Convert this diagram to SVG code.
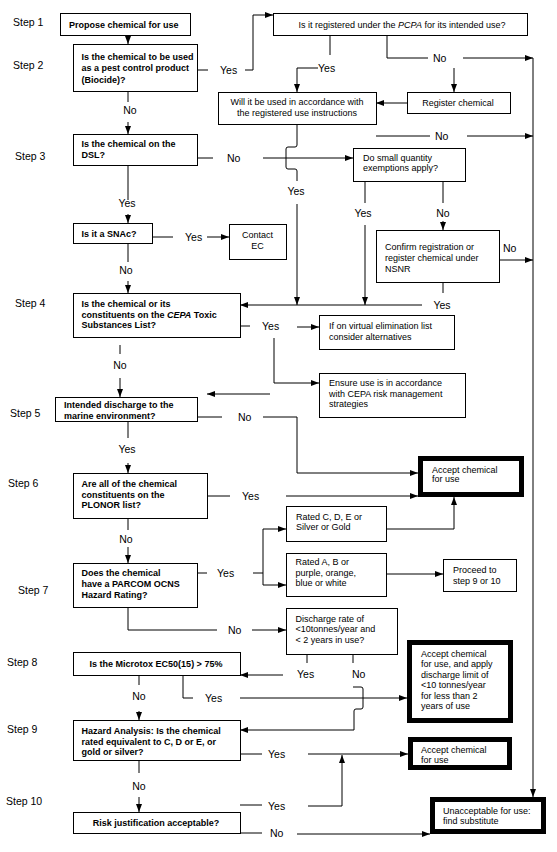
<svg xmlns="http://www.w3.org/2000/svg" width="557" height="852" viewBox="0 0 557 852">
<defs>
<marker id="ah" viewBox="0 0 8 6" refX="8" refY="3" markerWidth="8" markerHeight="6" orient="auto" markerUnits="userSpaceOnUse"><path d="M0,0 L8,3 L0,6 z" fill="#000"/></marker>
<style>
.box{fill:#fff;stroke:#000;stroke-width:1}
.thick{fill:#fff;stroke:#000;stroke-width:5}
.b{font-family:"Liberation Sans",Arial,sans-serif;font-size:9px;font-weight:bold;fill:#000}
.r{font-family:"Liberation Sans",Arial,sans-serif;font-size:9px;fill:#000}
.lbl{font-family:"Liberation Sans",Arial,sans-serif;font-size:10.5px;fill:#000}
.step{font-family:"Liberation Sans",Arial,sans-serif;font-size:10.5px;fill:#000}
.c{fill:none;stroke:#000;stroke-width:1}
.a{fill:none;stroke:#000;stroke-width:1;marker-end:url(#ah)}
</style>
</defs>
<rect width="557" height="852" fill="#fff"/>
<g id="steps">
<text class="step" x="13" y="26">Step 1</text>
<text class="step" x="13" y="69">Step 2</text>
<text class="step" x="15" y="160">Step 3</text>
<text class="step" x="15" y="307">Step 4</text>
<text class="step" x="10" y="417">Step 5</text>
<text class="step" x="8" y="487">Step 6</text>
<text class="step" x="18" y="594">Step 7</text>
<text class="step" x="7" y="666">Step 8</text>
<text class="step" x="7" y="733">Step 9</text>
<text class="step" x="6" y="805">Step 10</text>
</g>
<g id="connectors">
<path class="a" d="M128,35 V44"/>
<path class="c" d="M197,70 H208"/>
<text class="lbl" x="220" y="74">Yes</text>
<path class="a" d="M245,70 H253 V15 H273"/>
<path class="c" d="M330,35 V55"/>
<text class="lbl" x="318" y="72">Yes</text>
<path class="a" d="M318,68 H297 V92"/>
<path class="c" d="M387,35 V58 H428"/>
<text class="lbl" x="433" y="62">No</text>
<path class="a" d="M463,58 H533"/>
<path class="a" d="M454,68 V92"/>
<path class="a" d="M407,103 H376"/>
<path class="c" d="M297,124 V145 Q297,147 295,147 H288 Q286,147 286,149 V167 Q286,169 288,169 H295 Q297,169 297,171 V181"/>
<text class="lbl" x="296" y="195" text-anchor="middle">Yes</text>
<path class="a" d="M297,204 V305"/>
<path class="c" d="M128,91 V102"/>
<text class="lbl" x="130" y="114" text-anchor="middle">No</text>
<path class="a" d="M128,122 V134"/>
<path class="c" d="M197,158 H213"/>
<text class="lbl" x="227" y="162">No</text>
<path class="a" d="M263,158 H353"/>
<path class="c" d="M376,136 H430"/>
<text class="lbl" x="435" y="140">No</text>
<path class="a" d="M467,136 H533"/>
<path class="c" d="M365,181 V203"/>
<text class="lbl" x="363" y="217" text-anchor="middle">Yes</text>
<path class="a" d="M365,225 V305"/>
<path class="c" d="M443,181 V203"/>
<text class="lbl" x="443" y="217" text-anchor="middle">No</text>
<path class="a" d="M443,221 V230"/>
<text class="lbl" x="503" y="252">No</text>
<path class="a" d="M499,260 H533"/>
<path class="c" d="M443,282 V293"/>
<text class="lbl" x="442" y="309" text-anchor="middle">Yes</text>
<path class="a" d="M422,305 H240"/>
<path class="c" d="M128,165 V200"/>
<text class="lbl" x="127" y="207" text-anchor="middle">Yes</text>
<path class="a" d="M128,214 V223"/>
<path class="c" d="M152,237 H173"/>
<text class="lbl" x="185" y="241">Yes</text>
<path class="a" d="M207,237 H229"/>
<path class="c" d="M128,243 V262"/>
<text class="lbl" x="126" y="274" text-anchor="middle">No</text>
<path class="a" d="M128,281 V293"/>
<path class="c" d="M240,326 H250"/>
<text class="lbl" x="262" y="330">Yes</text>
<path class="a" d="M297,327 H319"/>
<path class="a" d="M274,338 V383 H319"/>
<path class="c" d="M120,345 V354"/>
<text class="lbl" x="120" y="369" text-anchor="middle">No</text>
<path class="a" d="M120,378 V397"/>
<path class="a" d="M270,394 H207"/>
<path class="c" d="M197,417 H222"/>
<text class="lbl" x="238" y="421">No</text>
<path class="a" d="M263,417 H297 V473 H418"/>
<path class="c" d="M128,421 V438"/>
<text class="lbl" x="127" y="453" text-anchor="middle">Yes</text>
<path class="a" d="M128,463 V473"/>
<path class="c" d="M207,496 H230"/>
<text class="lbl" x="242" y="500">Yes</text>
<path class="a" d="M286,496 H418"/>
<path class="a" d="M386,529 H454 V497"/>
<path class="c" d="M128,518 V530"/>
<text class="lbl" x="126" y="543" text-anchor="middle">No</text>
<path class="a" d="M128,547 V563"/>
<path class="c" d="M197,573 H207"/>
<text class="lbl" x="217" y="577">Yes</text>
<path class="c" d="M253,573 H263"/>
<path class="a" d="M263,573 V529 H286"/>
<path class="a" d="M263,573 V585 H286"/>
<path class="a" d="M386,574 H443"/>
<path class="c" d="M128,607 V630 H217"/>
<text class="lbl" x="228" y="634">No</text>
<path class="a" d="M252,630 H286"/>
<path class="c" d="M307,654 V663"/>
<text class="lbl" x="297" y="678">Yes</text>
<path class="a" d="M283,675 H240"/>
<path class="c" d="M353,654 V663"/>
<text class="lbl" x="352" y="678">No</text>
<path class="a" d="M353,687 H361 Q363,687 363,689 V707 Q363,709 361,709 H356 Q354,709 354,711 V730 H240"/>
<path class="c" d="M183,675 V698 H193"/>
<text class="lbl" x="205" y="702">Yes</text>
<path class="a" d="M240,698 H407"/>
<path class="c" d="M139,675 V685"/>
<text class="lbl" x="139" y="700" text-anchor="middle">No</text>
<path class="a" d="M139,711 V720"/>
<path class="c" d="M240,754 H262"/>
<text class="lbl" x="268" y="758">Yes</text>
<path class="a" d="M308,754 H408"/>
<path class="c" d="M240,805 H262"/>
<text class="lbl" x="268" y="810">Yes</text>
<path class="a" d="M308,806 H342 V755"/>
<path class="c" d="M139,760 V773"/>
<text class="lbl" x="139" y="790" text-anchor="middle">No</text>
<path class="a" d="M139,797 V812"/>
<path class="c" d="M240,833 H262"/>
<text class="lbl" x="270" y="837">No</text>
<path class="a" d="M297,834 H430"/>
<path class="a" d="M533,58 V797"/>
</g>
<g id="n1"><rect class="box" x="60.5" y="13.5" width="130" height="22"/><text class="b" x="69" y="27.5">Propose chemical for use</text></g>
<g id="n2"><rect class="box" x="73.5" y="44.5" width="124" height="47"/><text class="b" x="81.5" y="59.5">Is the chemical to be used</text><text class="b" x="81.5" y="71">as a pest control product</text><text class="b" x="81.5" y="82.5">(Biocide)?</text></g>
<g id="n3"><rect class="box" x="73.5" y="134.5" width="124" height="31"/><text class="b" x="81.5" y="147">Is the chemical on the</text><text class="b" x="81.5" y="158">DSL?</text></g>
<g id="pcpa"><rect class="box" x="273.5" y="13.5" width="254" height="22"/><text class="r" x="402" y="27.5" text-anchor="middle">Is it registered under the <tspan font-style="italic">PCPA</tspan> for its intended use?</text></g>
<g id="will"><rect class="box" x="218.5" y="92.5" width="158" height="32"/><text class="r" x="297" y="105" text-anchor="middle">Will it be used in accordance with</text><text class="r" x="297" y="116" text-anchor="middle">the registered use instructions</text></g>
<g id="register"><rect class="box" x="407.5" y="92.5" width="103" height="21"/><text class="r" x="458" y="105.5" text-anchor="middle">Register chemical</text></g>
<g id="dosmall"><rect class="box" x="353.5" y="148.5" width="112" height="33"/><text class="r" x="363" y="160.5">Do small quantity</text><text class="r" x="363" y="171">exemptions apply?</text></g>
<g id="snac"><rect class="box" x="73.5" y="223.5" width="79" height="20"/><text class="b" x="81.5" y="237">Is it a SNAc?</text></g>
<g id="contact"><rect class="box" x="229.5" y="224.5" width="57" height="35"/><text class="r" x="257.5" y="238" text-anchor="middle">Contact</text><text class="r" x="257.5" y="249" text-anchor="middle">EC</text></g>
<g id="confirm"><rect class="box" x="376.5" y="230.5" width="123" height="52"/><text class="r" x="385" y="250">Confirm registration or</text><text class="r" x="385" y="261">register chemical under</text><text class="r" x="385" y="271.5">NSNR</text></g>
<g id="n4"><rect class="box" x="73.5" y="293.5" width="167" height="44"/><text class="b" x="81.5" y="307">Is the chemical or its</text><text class="b" x="81.5" y="317.5">constituents on the <tspan font-style="italic">CEPA</tspan> Toxic</text><text class="b" x="81.5" y="328">Substances List?</text></g>
<g id="virtual"><rect class="box" x="319.5" y="315.5" width="135" height="34"/><text class="r" x="329" y="329">If on virtual elimination list</text><text class="r" x="329" y="340">consider alternatives</text></g>
<g id="ensure"><rect class="box" x="319.5" y="373.5" width="146" height="44"/><text class="r" x="329" y="386">Ensure use is in accordance</text><text class="r" x="329" y="396.5">with CEPA risk management</text><text class="r" x="329" y="407">strategies</text></g>
<g id="n5"><rect class="box" x="55.5" y="397.5" width="142" height="24"/><text class="b" x="64" y="408">Intended discharge to the</text><text class="b" x="64" y="418.5">marine environment?</text></g>
<g id="accept1"><rect class="thick" x="420.5" y="458.5" width="101" height="36"/><text class="r" x="432" y="472.5">Accept chemical</text><text class="r" x="432" y="482">for use</text></g>
<g id="n6"><rect class="box" x="73.5" y="473.5" width="134" height="45"/><text class="b" x="81.5" y="487">Are all of the chemical</text><text class="b" x="81.5" y="497.5">constituents on the</text><text class="b" x="81.5" y="508">PLONOR list?</text></g>
<g id="ratedC"><rect class="box" x="286.5" y="506.5" width="100" height="35"/><text class="r" x="296" y="519.5">Rated C, D, E or</text><text class="r" x="296" y="530">Silver or Gold</text></g>
<g id="ratedA"><rect class="box" x="286.5" y="553.5" width="100" height="43"/><text class="r" x="295.5" y="565">Rated A, B or</text><text class="r" x="295.5" y="575.5">purple, orange,</text><text class="r" x="295.5" y="586">blue or white</text></g>
<g id="proceed"><rect class="box" x="443.5" y="559.5" width="73" height="32"/><text class="r" x="453" y="572.5">Proceed to</text><text class="r" x="453" y="583.5">step 9 or 10</text></g>
<g id="n7"><rect class="box" x="73.5" y="563.5" width="124" height="44"/><text class="b" x="81.5" y="576">Does the chemical</text><text class="b" x="81.5" y="587">have a PARCOM OCNS</text><text class="b" x="81.5" y="597.5">Hazard Rating?</text></g>
<g id="discharge"><rect class="box" x="286.5" y="608.5" width="111" height="46"/><text class="r" x="295.5" y="621.5">Discharge rate of</text><text class="r" x="295.5" y="632">&lt;10tonnes/year and</text><text class="r" x="295.5" y="642.5">&lt; 2 years in use?</text></g>
<g id="n8"><rect class="box" x="73.5" y="652.5" width="167" height="23"/><text class="b" x="156" y="666.5" text-anchor="middle">Is the Microtox EC50(15) &gt; 75%</text></g>
<g id="accept2"><rect class="thick" x="409.5" y="642.5" width="101" height="78"/><text class="r" x="421" y="656.5">Accept chemical</text><text class="r" x="421" y="667">for use, and apply</text><text class="r" x="421" y="677.5">discharge limit of</text><text class="r" x="421" y="688">&lt;10 tonnes/year</text><text class="r" x="421" y="698.5">for less than 2</text><text class="r" x="421" y="709">years of use</text></g>
<g id="n9"><rect class="box" x="73.5" y="720.5" width="167" height="40"/><text class="b" x="81.5" y="734">Hazard Analysis: Is the chemical</text><text class="b" x="81.5" y="744.5">rated equivalent to C, D or E, or</text><text class="b" x="81.5" y="755">gold or silver?</text></g>
<g id="accept3"><rect class="thick" x="410.5" y="739.5" width="99" height="28"/><text class="r" x="421" y="752.5">Accept chemical</text><text class="r" x="421" y="762.5">for use</text></g>
<g id="n10"><rect class="box" x="73.5" y="812.5" width="167" height="21"/><text class="b" x="156" y="826" text-anchor="middle">Risk justification acceptable?</text></g>
<g id="unacceptable"><rect class="thick" x="432.5" y="799.5" width="111" height="32"/><text class="r" x="443" y="814">Unacceptable for use:</text><text class="r" x="443" y="823.5">find substitute</text></g>
</svg>
